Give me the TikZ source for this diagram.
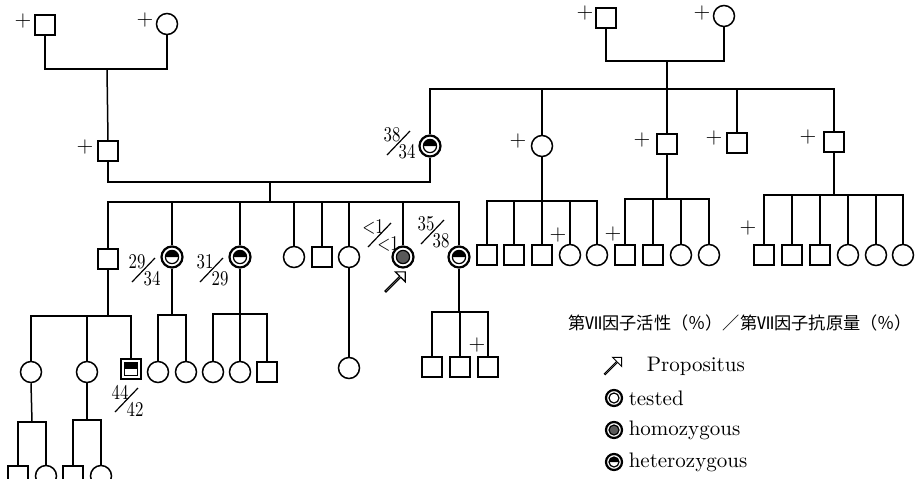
\documentclass[tikz,border=0pt]{standalone}
\usepackage{fontspec}
\newfontfamily\jpfont{Noto Sans CJK JP}
\usetikzlibrary{calc,shapes.arrows}

% activity/antigen pair: name, centre, top value, bottom value
\newcommand{\fvii}[4]{%
  \node[num] (#1t) at ($(#2)+(-7,-8)$) {\scalebox{0.8}[1]{#3}};
  \node[num] (#1b) at ($(#2)+(8,9)$) {\scalebox{0.8}[1]{#4}};
  \draw[slash] ($(#2)+(-12,12)$) -- ($(#2)+(11,-12)$);
}

\begin{document}
\begin{tikzpicture}[
    x=0.5pt, y=-0.5pt,
    line width=0.75pt,
    male/.style={draw, rectangle, minimum size=10pt, inner sep=0pt, line width=0.75pt},
    female/.style={draw, circle, minimum size=10.5pt, inner sep=0pt, line width=0.75pt},
    tested/.style={female, line width=1.1pt, path picture={
        \draw[line width=0.6pt] (path picture bounding box.center) circle (#1);}},
    tested/.default=3.3pt,
    hetero/.style={female, line width=1.1pt, path picture={
        \fill (path picture bounding box.center) ++(-#1,0pt) arc (180:0:#1) -- cycle;
        \draw[line width=0.6pt] (path picture bounding box.center) circle (#1);}},
    hetero/.default=3.3pt,
    homo/.style={female, line width=1.1pt, path picture={
        \fill[black!65] (path picture bounding box.center) circle (#1);
        \draw[line width=0.6pt] (path picture bounding box.center) circle (#1);}},
    homo/.default=3.3pt,
    heterosq/.style={male, line width=1pt, path picture={
        \fill ([shift={(-3.2pt,0pt)}]path picture bounding box.center) rectangle ([shift={(3.2pt,3.2pt)}]path picture bounding box.center);
        \draw[line width=0.5pt] ([shift={(-3.2pt,-3.2pt)}]path picture bounding box.center) rectangle ([shift={(3.2pt,3.2pt)}]path picture bounding box.center);}},
    dead/.style={inner sep=0pt, font=\fontsize{11}{11}\selectfont},
    num/.style={inner sep=0pt, font=\fontsize{10.5}{10.5}\selectfont},
    slash/.style={line width=0.6pt},
    propo/.style={single arrow, draw, line width=0.55pt, inner sep=0pt, minimum width=7pt,
        minimum height=14pt, single arrow head extend=2pt, rotate=45},
    lbl/.style={font=\fontsize{10.5}{12}\selectfont, inner sep=0pt, anchor=west}
]
\clip (0,0) rectangle (917,478);

% Generation I, left couple
\node[male] (I1) at (45,25) {};
\node[dead] (dI1) at (23,21) {+};
\node[female] (I2) at (167,24) {};
\node[dead] (dI2) at (145,20) {+};
\coordinate (mI1) at (107,69);
\draw (I1.south) |- (mI1) -| (I2.south);

% Generation I, right couple
\node[male] (I3) at (606,18) {};
\node[dead] (dI3) at (585,13) {+};
\node[female] (I4) at (724,16) {};
\node[dead] (dI4) at (702,13) {+};
\coordinate (mI2) at (667,61);
\coordinate (sII) at (667,89);
\draw (I3.south) |- (mI2) -| (I4.south);
\draw (mI2) -- (sII);

% Generation II
\node[male] (II1) at (108,151) {};
\node[dead] (dII1) at (85,147) {+};
\draw (mI1) -- (II1.north);
\node[hetero] (II2) at (430,146) {};
\fvii{rII2}{399,143}{38}{34}
\node[female] (II3) at (542,146) {};
\node[dead] (dII3) at (518,141) {+};
\node[male] (II4) at (667,144) {};
\node[dead] (dII4) at (642,140) {+};
\node[male] (II5) at (737,143) {};
\node[dead] (dII5) at (714,138) {+};
\node[male] (II6) at (834,142) {};
\node[dead] (dII6) at (808,137) {+};
\foreach \c in {II2,II3,II4,II5,II6}
    \draw (sII) -| (\c.north);

\coordinate (mII) at (270,182);
\coordinate (sIII) at (270,202);
\draw (II1.south) |- (mII) -| (II2.south);
\draw (mII) -- (sIII);

% Generation III, sibship of the propositus
\node[male] (III1) at (108,259) {};
\node[hetero] (III2) at (172,257) {};
\fvii{rIII2}{144,270}{29}{34}
\node[hetero] (III3) at (240,257) {};
\fvii{rIII3}{212,270}{31}{29}
\node[female] (III4) at (294,257) {};
\node[male] (III5) at (322,257) {};
\node[female] (III6) at (349,257) {};
\node[homo] (III7) at (403,257) {};
\fvii{rIII7}{380,235}{<1}{<1}
\node[propo] (pIII7) at (395,282) {};
\node[hetero] (III8) at (459,257) {};
\fvii{rIII8}{433,232}{35}{38}
\foreach \c in {III1,III2,III3,III4,III5,III6,III7,III8}
    \draw (sIII) -| (\c.north);

% Generation III, cousins
\coordinate (s3) at (542,201);
\draw (II3.south) -- (s3);
\node[male] (a1) at (487,255) {};
\node[male] (a2) at (514,255) {};
\node[male] (a3) at (542,255) {};
\node[female] (a4) at (570,255) {};
\node[female] (a5) at (597,255) {};
\node[dead] (da4) at (558,235) {+};
\foreach \c in {a1,a2,a3,a4,a5}
    \draw (s3) -| (\c.north);

\coordinate (s4) at (667,199);
\draw (II4.south) -- (s4);
\node[male] (b1) at (625,255) {};
\node[male] (b2) at (653,255) {};
\node[female] (b3) at (681,255) {};
\node[female] (b4) at (709,255) {};
\node[dead] (db1) at (613,234) {+};
\foreach \c in {b1,b2,b3,b4}
    \draw (s4) -| (\c.north);

\coordinate (s6) at (834,195);
\draw (II6.south) -- (s6);
\node[male] (c1) at (764,255) {};
\node[male] (c2) at (792,255) {};
\node[male] (c3) at (820,255) {};
\node[female] (c4) at (848,255) {};
\node[female] (c5) at (876,255) {};
\node[female] (c6) at (903,255) {};
\node[dead] (dc1) at (748,228) {+};
\foreach \c in {c1,c2,c3,c4,c5,c6}
    \draw (s6) -| (\c.north);

% Generation IV
\coordinate (sIV1) at (108,316);
\draw (III1.south) -- (sIV1);
\node[female] (IV1) at (31,372) {};
\node[female] (IV2) at (87,372) {};
\node[heterosq] (IV3) at (131,369) {};
\fvii{rIV3}{127,400}{44}{42}
\foreach \c in {IV1,IV2,IV3}
    \draw (sIV1) -| (\c.north);

\coordinate (sIV2) at (172,315);
\draw (III2.south) -- (sIV2);
\node[female] (IV4) at (158,372) {};
\node[female] (IV5) at (186,372) {};
\foreach \c in {IV4,IV5}
    \draw (sIV2) -| (\c.north);

\coordinate (sIV3) at (240,314);
\draw (III3.south) -- (sIV3);
\node[female] (IV6) at (213,372) {};
\node[female] (IV7) at (240,372) {};
\node[male] (IV8) at (267,372) {};
\foreach \c in {IV6,IV7,IV8}
    \draw (sIV3) -| (\c.north);

\node[female] (IV9) at (349,368) {};
\draw (III6.south) -- (IV9.north);

\coordinate (sIV8) at (459,312);
\draw (III8.south) -- (sIV8);
\node[male] (IV10) at (432,367) {};
\node[male] (IV11) at (460,367) {};
\node[male] (IV12) at (488,367) {};
\node[dead] (dIV12) at (477,345) {+};
\foreach \c in {IV10,IV11,IV12}
    \draw (sIV8) -| (\c.north);

% Generation V (cut by the page edge)
\coordinate (sV1) at (32,422);
\draw (IV1.south) -- (sV1);
\node[male] (V1) at (18,476) {};
\node[female] (V2) at (46,476) {};
\foreach \c in {V1,V2}
    \draw (sV1) -| (\c.north);

\coordinate (sV2) at (87,420);
\draw (IV2.south) -- (sV2);
\node[male] (V3) at (73,476) {};
\node[female] (V4) at (101,476) {};
\foreach \c in {V3,V4}
    \draw (sV2) -| (\c.north);

% Legend
\node[font=\jpfont\fontsize{8.6}{9}\selectfont, inner sep=0pt] (lgTitle) at (740,323) {第Ⅶ因子活性（％）／第Ⅶ因子抗原量（％）};
\node[propo, minimum height=12pt, minimum width=6.5pt, line width=0.5pt] (lgArrow) at (613,366) {};
\node[lbl] (lgProp) at (646,366) {Propositus};
\node[tested=2.5pt, minimum size=8pt] (lgTested) at (614,398) {};
\node[lbl] (lgTestedT) at (628,398) {tested};
\node[homo=2.5pt, minimum size=8pt] (lgHomo) at (614,430) {};
\node[lbl] (lgHomoT) at (628,430) {homozygous};
\node[hetero=2.5pt, minimum size=8pt] (lgHet) at (614,462) {};
\node[lbl] (lgHetT) at (628,462) {heterozygous};

\end{tikzpicture}
\end{document}
